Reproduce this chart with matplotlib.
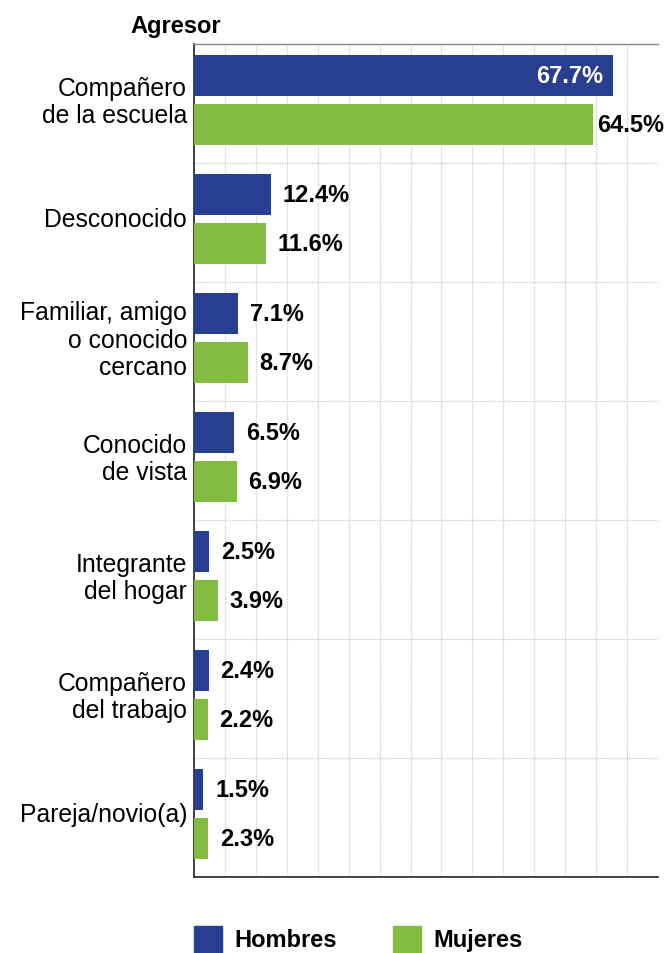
import matplotlib.pyplot as plt
import numpy as np

plt.rcParams['font.family'] = ['Liberation Sans', 'DejaVu Sans']

categorias = ["Compañero\nde la escuela", "Desconocido", "Familiar, amigo\no conocido\ncercano",
              "Conocido\nde vista", "Integrante\ndel hogar", "Compañero\ndel trabajo", "Pareja/novio(a)"]
hombres = [67.7, 12.4, 7.1, 6.5, 2.5, 2.4, 1.5]
mujeres = [64.5, 11.6, 8.7, 6.9, 3.9, 2.2, 2.3]

azul = "#283e8f"
verde = "#84bb41"

fig = plt.figure(figsize=(6.68, 9.54), dpi=100)
ax = fig.add_axes([194 / 668, 1 - 878 / 954, (658 - 194) / 668, (878 - 45) / 954])

y = np.arange(len(categorias))
h = 0.345
ax.barh(y - 0.235, hombres, height=h, color=azul, zorder=3)
ax.barh(y + 0.176, mujeres, height=h, color=verde, zorder=3)

fs = 17
for i, (vh, vm) in enumerate(zip(hombres, mujeres)):
    if vh > 50:
        ax.text(vh - 1.5, i - 0.235, f"{vh}%", color="white", fontsize=fs, fontweight="bold",
                ha="right", va="center", zorder=4)
    else:
        ax.text(vh + 1.9, i - 0.235, f"{vh}%", color="black", fontsize=fs, fontweight="bold",
                ha="left", va="center", zorder=4)
    ax.text(vm + 1.9 if vm < 50 else vm + 0.6, i + 0.176, f"{vm}%", color="black", fontsize=fs,
            fontweight="bold", ha="left", va="center", zorder=4)

ax.set_xlim(0, 75)
ax.set_ylim(len(categorias) - 0.5, -0.5)
ax.set_xticks(np.arange(0, 76, 5))
ax.set_yticks(np.arange(len(categorias) + 1) - 0.5)
ax.set_yticks(y - 0.05, minor=True)
ax.set_yticklabels([], minor=False)
ax.set_yticklabels(categorias, minor=True, fontsize=17.8, linespacing=1.17)
ax.tick_params(axis="y", which="both", length=0, pad=5)
ax.tick_params(axis="x", length=0, labelbottom=False)
ax.grid(True, which="major", color="#c8c8c8", linestyle=(0, (1, 1)), linewidth=0.9, zorder=0)

ax.spines["right"].set_visible(False)
ax.spines["top"].set_color("#888888")
ax.spines["top"].set_linewidth(1)
ax.spines["left"].set_color("#222222")
ax.spines["bottom"].set_color("#222222")
ax.spines["left"].set_linewidth(1.2)
ax.spines["bottom"].set_linewidth(1.2)

fig.text(130 / 668, 1 - 27 / 954, "Agresor", fontsize=fs, fontweight="bold", ha="left", va="center")

# leyenda
fig.patches.append(plt.Rectangle((194 / 668, 0), 28 / 668, 27 / 954, color=azul,
                                 transform=fig.transFigure, figure=fig))
fig.patches.append(plt.Rectangle((393 / 668, 0), 28 / 668, 27 / 954, color=verde,
                                 transform=fig.transFigure, figure=fig))
fig.text(234 / 668, 1 - 941 / 954, "Hombres", fontsize=fs, fontweight="bold", ha="left", va="center")
fig.text(433 / 668, 1 - 941 / 954, "Mujeres", fontsize=fs, fontweight="bold", ha="left", va="center")

fig.savefig("out.png", dpi=100)
